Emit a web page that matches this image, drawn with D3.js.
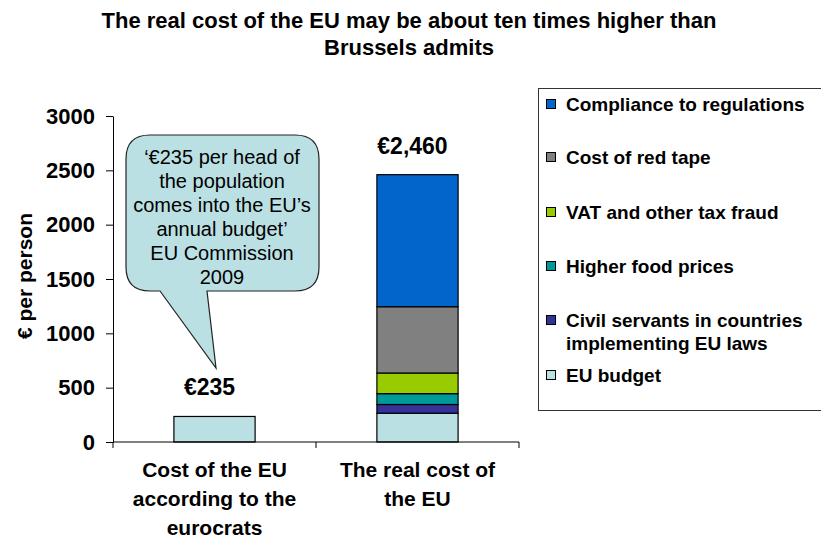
<!DOCTYPE html>
<html>
<head>
<meta charset="utf-8">
<script src="https://cdn.jsdelivr.net/npm/d3@7"></script>
<style>
  body { margin: 0; background: #fff; }
  svg { display: block; font-family: "Liberation Sans", Arial, sans-serif; }
</style>
</head>
<body>
<svg id="chart" width="821" height="544"></svg>
<script>
const categories = ["eurocrats", "real"];
const categoryLines = [
  ["Cost of the EU", "according to the", "eurocrats"],
  ["The real cost of", "the EU"],
];
const seriesKeys = ["budget", "civil", "food", "vat", "redtape", "compliance"];
const seriesLabels = [
  ["EU budget"],
  ["Civil servants in countries", "implementing EU laws"],
  ["Higher food prices"],
  ["VAT and other tax fraud"],
  ["Cost of red tape"],
  ["Compliance to regulations"],
];
const seriesColors = ["#bbe0e3", "#333399", "#009999", "#99cc00", "#808080", "#0066cc"];
const eurocratValues = [235, 0, 0, 0, 0, 0];
const realValues = [265, 80, 100, 190, 610, 1215];
const totalLabels = ["€235", "€2,460"];
const yTicks = [0, 500, 1000, 1500, 2000, 2500, 3000];
const titleLines = ["The real cost of the EU may be about ten times higher than", "Brussels admits"];
const calloutLines = [
  "‘€235 per head of",
  "the population",
  "comes into the EU’s",
  "annual budget’",
  "EU Commission",
  "2009",
];

const svg = d3.select("#chart");
const margin = { left: 113, top: 116, right: 302, bottom: 102 };
const plotW = 519 - margin.left;
const plotH = 442 - margin.top;

const rows = categories.map((c, i) => {
  const vals = i === 0 ? eurocratValues : realValues;
  const row = { category: c };
  seriesKeys.forEach((k, j) => { row[k] = vals[j]; });
  return row;
});

const stacked = d3.stack().keys(seriesKeys)(rows);

const x = d3.scaleBand().domain(categories).range([0, plotW]).padding(0);
const y = d3.scaleLinear().domain([0, 3000]).range([plotH, 0]);
const barW = x.bandwidth() * 0.4;

const g = svg.append("g").attr("transform", `translate(${margin.left},${margin.top})`);

// title
svg.append("g")
  .selectAll("text")
  .data(titleLines)
  .join("text")
  .attr("x", 409)
  .attr("y", (d, i) => 28 + i * 27)
  .attr("text-anchor", "middle")
  .attr("font-weight", "bold")
  .attr("font-size", 22)
  .text((d) => d);

// bars
g.append("g")
  .selectAll("g")
  .data(stacked)
  .join("g")
  .attr("fill", (d, i) => seriesColors[i])
  .selectAll("rect")
  .data((d) => d.filter((p) => p[1] - p[0] > 0))
  .join("rect")
  .attr("x", (d) => x(d.data.category) + (x.bandwidth() - barW) / 2)
  .attr("y", (d) => y(d[1]))
  .attr("width", barW)
  .attr("height", (d) => y(d[0]) - y(d[1]))
  .attr("stroke", "#000")
  .attr("stroke-width", 1.2);

// axes
const yAxis = g.append("g")
  .call(d3.axisLeft(y).tickValues(yTicks).tickFormat(d3.format("d")).tickSize(7).tickSizeOuter(0));
yAxis.select(".domain").attr("stroke", "#000");
yAxis.selectAll("text")
  .attr("font-size", 22)
  .attr("font-weight", "bold")
  .attr("font-family", "Liberation Sans, Arial, sans-serif")
  .attr("fill", "#000")
  .attr("x", -18);

const xAxis = g.append("g").attr("transform", `translate(0,${plotH})`);
xAxis.append("line")
  .attr("x1", 0).attr("x2", plotW)
  .attr("y1", 0).attr("y2", 0)
  .attr("stroke", "#000");
xAxis.selectAll("line.tick")
  .data([0, ...categories.map((c) => x(c) + x.bandwidth())])
  .join("line")
  .attr("class", "tick")
  .attr("x1", (d) => d).attr("x2", (d) => d)
  .attr("y1", 0).attr("y2", 6)
  .attr("stroke", "#000");

xAxis.selectAll("text.cat")
  .data(categories)
  .join("text")
  .attr("class", "cat")
  .attr("text-anchor", "middle")
  .attr("font-size", 21)
  .attr("font-weight", "bold")
  .attr("transform", (d) => `translate(${x(d) + x.bandwidth() / 2},0)`)
  .each(function (d, i) {
    d3.select(this)
      .selectAll("tspan")
      .data(categoryLines[i])
      .join("tspan")
      .attr("x", 0)
      .attr("y", (t, k) => 35 + k * 29)
      .text((t) => t);
  });

// y axis title
g.append("text")
  .attr("transform", `translate(-81,${plotH / 2 - 3}) rotate(-90)`)
  .attr("text-anchor", "middle")
  .attr("font-size", 21)
  .attr("font-weight", "bold")
  .text("€ per person");

// total labels
g.selectAll("text.total")
  .data(categories)
  .join("text")
  .attr("class", "total")
  .attr("x", (d) => x(d) + x.bandwidth() / 2 - 5)
  .attr("y", (d, i) => y(d3.sum(i === 0 ? eurocratValues : realValues)) - 21)
  .attr("text-anchor", "middle")
  .attr("font-size", 23)
  .attr("font-weight", "bold")
  .text((d, i) => totalLabels[i]);

// callout bubble
const bx0 = 126, bx1 = 319, by0 = 135, by1 = 291, r = 24;
const tip = [216, 368];
const bubblePath = [
  `M${bx0 + r},${by0}`,
  `H${bx1 - r}`,
  `Q${bx1},${by0} ${bx1},${by0 + r}`,
  `V${by1 - r}`,
  `Q${bx1},${by1} ${bx1 - r},${by1}`,
  `H207`,
  `L${tip[0]},${tip[1]}`,
  `L160,${by1}`,
  `H${bx0 + r}`,
  `Q${bx0},${by1} ${bx0},${by1 - r}`,
  `V${by0 + r}`,
  `Q${bx0},${by0} ${bx0 + r},${by0}`,
  "Z",
].join(" ");
svg.append("path")
  .attr("d", bubblePath)
  .attr("fill", "#bbe0e3")
  .attr("stroke", "#222")
  .attr("stroke-width", 1.2);
svg.append("text")
  .attr("text-anchor", "middle")
  .attr("font-size", 20)
  .selectAll("tspan")
  .data(calloutLines)
  .join("tspan")
  .attr("x", 222)
  .attr("y", (d, i) => 164 + i * 24)
  .text((d) => d);

// legend
const legend = svg.append("g");
legend.append("rect")
  .attr("x", 538.5).attr("y", 88.5)
  .attr("width", 300).attr("height", 322)
  .attr("fill", "#fff")
  .attr("stroke", "#333");
const legendY = [375, 320, 266, 212, 157, 104];
const legendItems = legend.selectAll("g.item")
  .data(seriesKeys)
  .join("g")
  .attr("class", "item")
  .attr("transform", (d, i) => `translate(546,${legendY[i]})`);
legendItems.append("rect")
  .attr("x", 0.5).attr("y", -4.5)
  .attr("width", 9).attr("height", 9)
  .attr("fill", (d, i) => seriesColors[i])
  .attr("stroke", "#000");
legendItems.append("text")
  .attr("font-size", 19)
  .attr("font-weight", "bold")
  .selectAll("tspan")
  .data((d, i) => seriesLabels[i])
  .join("tspan")
  .attr("x", 20)
  .attr("y", (t, k) => 7 + k * 23)
  .text((t) => t);
</script>
</body>
</html>
